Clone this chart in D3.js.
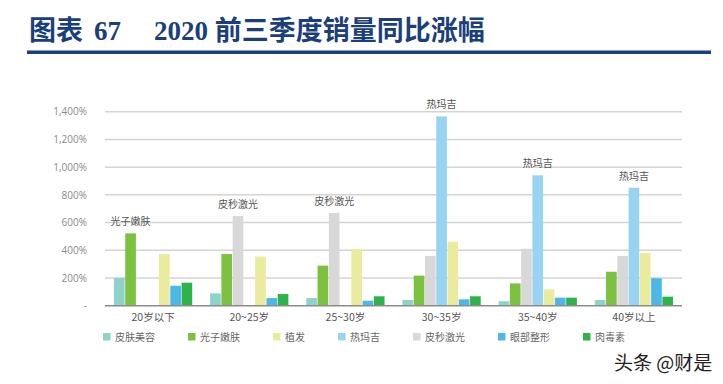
<!DOCTYPE html>
<html>
<head>
<meta charset="utf-8">
<script src="https://cdn.jsdelivr.net/npm/d3@7"></script>
<style>
  body { margin: 0; background: #fff; }
  svg { display: block; }
</style>
</head>
<body>
<svg id="chart" width="723" height="384"></svg>
<script>
// age groups
const groups = ["20岁以下", "20~25岁", "25~30岁", "30~35岁", "35~40岁", "40岁以上"];
// bar order inside each group
const seriesNames = ["皮肤美容", "光子嫩肤", "皮秒激光", "热玛吉", "植发", "眼部整形", "肉毒素"];
// legend order (as in the original)
const legendOrder = ["皮肤美容", "光子嫩肤", "植发", "热玛吉", "皮秒激光", "眼部整形", "肉毒素"];
const colors = ["#8dd3ca", "#7dc142", "#d8d8d8", "#98d3f1", "#ebeb9d", "#4db7e7", "#2eb34b"];

// growth %, one array per series, following groups
const pifu    = [200, 89, 55, 41, 32, 41];
const guangzi = [522, 373, 289, 217, 161, 245];
const pimiao  = [0, 647, 669, 359, 411, 359];
const remaji  = [0, 0, 0, 1366, 941, 851];
const zhifa   = [373, 354, 409, 462, 118, 380];
const yanbu   = [144, 55, 36, 46, 58, 198];
const rodu    = [166, 84, 68, 68, 58, 65];
const values = [pifu, guangzi, pimiao, remaji, zhifa, yanbu, rodu];

const yTicks = [0, 200, 400, 600, 800, 1000, 1200, 1400];

const svg = d3.select("#chart");

// title
const title = svg.append("text")
    .attr("y", 40)
    .style("font-family", "'Liberation Serif', 'Noto Sans CJK SC', serif")
    .style("font-weight", "bold")
    .style("font-size", "27px")
    .style("fill", "#1b3f7c");
title.append("tspan").attr("x", 29).text("图表");
title.append("tspan").attr("x", 94).text("67");
title.append("tspan").attr("x", 154).text("2020 前三季度销量同比涨幅");

svg.append("rect")
    .attr("x", 27).attr("y", 50.5)
    .attr("width", 684).attr("height", 3.5)
    .style("fill", "#1b3f7c");

const x0 = d3.scaleBand().domain(groups).range([105, 682])
    .paddingInner(0.18).paddingOuter(0.09);
const x1 = d3.scaleBand().domain(seriesNames).range([0, x0.bandwidth()]);
const y = d3.scaleLinear().domain([0, 1400]).range([305.7, 111.7]);

// gridlines
svg.append("g").selectAll("line")
    .data(yTicks.filter(d => d > 0))
    .enter().append("line")
    .attr("x1", 105).attr("x2", 682)
    .attr("y1", d => y(d)).attr("y2", d => y(d))
    .style("stroke", "#d4d4d4")
    .style("stroke-width", 1.5);

// y axis labels
const yAxis = svg.append("g")
    .attr("transform", "translate(90,0)")
    .call(d3.axisLeft(y).tickValues(yTicks).tickSize(0)
        .tickFormat(d => d === 0 ? "-" : d3.format(",")(d) + "%"));
yAxis.select(".domain").remove();
yAxis.selectAll("text")
    .style("font-family", "'Open Sans', 'Noto Sans CJK SC', sans-serif")
    .style("font-size", "10px")
    .style("fill", "#8a8a8a");

// bars
const rows = groups.map((g, i) => ({
    group: g,
    bars: seriesNames.map((s, j) => ({ series: s, value: values[j][i], color: colors[j] }))
}));

const groupSel = svg.append("g").selectAll("g")
    .data(rows)
    .enter().append("g")
    .attr("transform", d => `translate(${x0(d.group)},0)`);

groupSel.selectAll("rect")
    .data(d => d.bars.filter(b => b.value > 0))
    .enter().append("rect")
    .attr("x", d => x1(d.series) + 0.3)
    .attr("width", x1.bandwidth() - 0.6)
    .attr("y", d => y(d.value))
    .attr("height", d => y(0) - y(d.value))
    .style("fill", d => d.color);

// label above the tallest bar of each group
groupSel.append("text")
    .datum(d => d.bars.reduce((a, b) => b.value > a.value ? b : a))
    .attr("x", d => x1(d.series) + x1.bandwidth() / 2)
    .attr("y", d => y(d.value) - 8)
    .attr("text-anchor", "middle")
    .style("font-family", "'Noto Sans CJK SC', sans-serif")
    .style("font-size", "10px")
    .style("fill", "#555")
    .text(d => d.series);

// x axis
svg.append("line")
    .attr("x1", 105).attr("x2", 682)
    .attr("y1", y(0)).attr("y2", y(0))
    .style("stroke", "#8c8c8c")
    .style("stroke-width", 1.5);

svg.append("g").selectAll("text")
    .data(groups)
    .enter().append("text")
    .attr("x", d => x0(d) + x0.bandwidth() / 2)
    .attr("y", 321)
    .attr("text-anchor", "middle")
    .style("font-family", "'Noto Sans CJK SC', sans-serif")
    .style("font-size", "10.5px")
    .style("fill", "#555")
    .text(d => d);

// legend
const legend = svg.append("g");
let lx = 103;
legendOrder.forEach(name => {
    const item = legend.append("g").attr("transform", `translate(${lx},333)`);
    item.append("rect")
        .attr("width", 7.5).attr("height", 7.5)
        .style("fill", colors[seriesNames.indexOf(name)]);
    const t = item.append("text")
        .attr("x", 12).attr("y", 7.5)
        .style("font-family", "'Noto Sans CJK SC', sans-serif")
        .style("font-size", "10px")
        .style("fill", "#666")
        .text(name);
    lx += 12 + t.node().getComputedTextLength() + 33;
});

// watermark
svg.append("text")
    .attr("x", 614).attr("y", 370)
    .style("font-family", "'Noto Sans CJK SC', sans-serif")
    .style("font-size", "19px")
    .style("fill", "#222")
    .style("stroke", "#fff")
    .style("stroke-width", 3)
    .style("paint-order", "stroke")
    .text("头条 @财是");
</script>
</body>
</html>
